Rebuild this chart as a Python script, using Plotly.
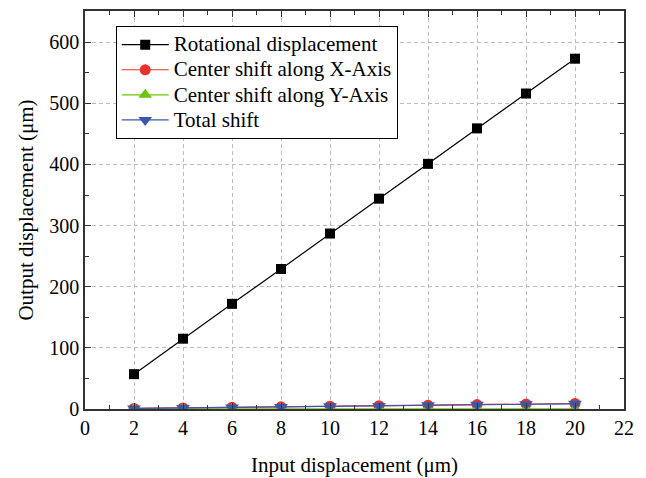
import plotly.graph_objects as go

x_input = [2, 4, 6, 8, 10, 12, 14, 16, 18, 20]
rotational = [57, 115, 172, 229, 287, 344, 401, 459, 516, 573]
shift_x = [1.0, 1.8, 2.7, 3.6, 4.5, 5.4, 6.3, 7.2, 8.1, 9.0]
shift_y = [0.3, 0.3, 0.3, 0.3, 0.3, 0.3, 0.3, 0.3, 0.3, 0.3]
shift_total = [0.9, 1.7, 2.6, 3.4, 4.3, 5.1, 6.0, 6.8, 7.7, 8.5]

names = ["Rotational displacement", "Center shift along X-Axis",
         "Center shift along Y-Axis", "Total shift"]
colors = ["#000000", "#e8322b", "#6dc40a", "#3a58aa"]
symbols = ["square", "circle", "triangle-up", "triangle-down"]
sizes = [10, 11, 12, 12]
series = [rotational, shift_x, shift_y, shift_total]

FONT = "Times New Roman, Liberation Serif, serif"

fig = go.Figure()
for name, col, sym, sz, ys in zip(names, colors, symbols, sizes, series):
    fig.add_trace(go.Scatter(
        x=x_input, y=ys, mode="lines+markers",
        name='<span style="font-size:21px">' + name + "</span>",
        line=dict(color=col, width=1.2),
        marker=dict(symbol=sym, size=sz, color=col),
    ))

axis_common = dict(
    showline=True, linecolor="#333333", linewidth=1.5, mirror="allticks",
    ticks="inside", ticklen=6, tickcolor="#333333", tickwidth=1.2,
    showgrid=True, gridcolor="#bdbdbd", griddash="4px,3px", gridwidth=1,
    zeroline=False, automargin=False,
    tickfont=dict(family=FONT, size=20, color="black"),
)

fig.update_xaxes(
    range=[0, 22], tick0=0, dtick=2,
    minor=dict(ticks="inside", dtick=1, ticklen=4, tickcolor="#333333", showgrid=False),
    title=dict(text="Input displacement (μm)", font=dict(family=FONT, size=21, color="black"),
               standoff=20),
    **axis_common,
)
fig.update_yaxes(
    range=[0, 651], tick0=0, dtick=100,
    minor=dict(ticks="inside", dtick=50, ticklen=4, tickcolor="#333333", showgrid=False),
    title=dict(text="Output displacement (μm)", font=dict(family=FONT, size=21, color="black"),
               standoff=10),
    **axis_common,
)

fig.update_layout(
    width=646, height=478,
    margin=dict(l=85, r=22, t=11, b=69),
    plot_bgcolor="white", paper_bgcolor="white",
    font=dict(family=FONT, size=21, color="black"),
    legend=dict(x=0.057, y=0.962, xanchor="left", yanchor="top",
                bgcolor="white", bordercolor="black", borderwidth=1,
                font=dict(family=FONT, size=17, color="black"),
                tracegroupgap=0, itemsizing="trace", itemwidth=47),
    showlegend=True,
)

fig.write_html("out.html")
